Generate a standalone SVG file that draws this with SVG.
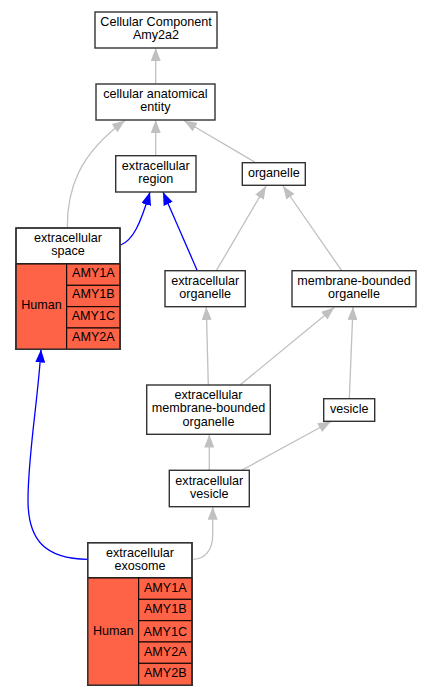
<svg xmlns="http://www.w3.org/2000/svg" width="431" height="696" viewBox="0 0 431 696">
<style>
text{font-family:"Liberation Sans",Arial,sans-serif;font-size:12.6px;fill:#000;text-anchor:middle}
.n{fill:#fff;stroke:#333;stroke-width:1.4}
.t{fill:#ff6347;stroke:#333;stroke-width:1.4}
.c{fill:#ff6347;stroke:#000;stroke-width:1}
.g{fill:none;stroke:#c0c0c0;stroke-width:1.3}
.b{fill:none;stroke:#0000ff;stroke-width:1.3}
</style>
<defs>
<marker id="ag" viewBox="0 0 13 10" refX="13" refY="5" markerWidth="13" markerHeight="10" markerUnits="userSpaceOnUse" orient="auto"><path d="M0,0L13,5L0,10z" fill="#c0c0c0"/></marker>
<marker id="ab" viewBox="0 0 13 10" refX="13" refY="5" markerWidth="13" markerHeight="10" markerUnits="userSpaceOnUse" orient="auto"><path d="M0,0L13,5L0,10z" fill="#0000ff"/></marker>
</defs>
<rect width="431" height="696" fill="#fff"/>
<g id="edges">
<path class="g" marker-end="url(#ag)" d="M155.7,84L155.7,48"/>
<path class="g" marker-end="url(#ag)" d="M155.7,155.7L155.7,120"/>
<path class="g" marker-end="url(#ag)" d="M255.7,162.7L184,120.5"/>
<path class="g" marker-end="url(#ag)" d="M67.3,228C67,190 78,155 125,120.5"/>
<path class="b" marker-end="url(#ab)" d="M120.7,245C133,240 140,225 150,192"/>
<path class="b" marker-end="url(#ab)" d="M197.3,270.7L163,192"/>
<path class="g" marker-end="url(#ag)" d="M216.3,270.7L266,186"/>
<path class="g" marker-end="url(#ag)" d="M341.7,270.7L283,186"/>
<path class="g" marker-end="url(#ag)" d="M208.3,385L206.3,307"/>
<path class="g" marker-end="url(#ag)" d="M240,385L334.3,307.5"/>
<path class="g" marker-end="url(#ag)" d="M349.3,398.7L353,307"/>
<path class="g" marker-end="url(#ag)" d="M209.3,470.3L209.3,434.5"/>
<path class="g" marker-end="url(#ag)" d="M241.7,470.3L331,421.5"/>
<path class="g" marker-end="url(#ag)" d="M193.3,559.3C205,559 212.7,550 212.7,535L212.7,506.7"/>
<path class="b" marker-end="url(#ab)" d="M87.7,559.3C45,559 28,540 28,500C28,455 38,400 41,349.5"/>
</g>
<g id="n1"><rect class="n" x="95" y="12" width="122" height="36"/><text x="156" y="26">Cellular Component</text><text x="156" y="38.7">Amy2a2</text></g>
<g id="n2"><rect class="n" x="96" y="84" width="119" height="36"/><text x="155.4" y="98">cellular anatomical</text><text x="155.4" y="111">entity</text></g>
<g id="n3"><rect class="n" x="115.7" y="155.7" width="80.3" height="36.3"/><text x="155.8" y="170">extracellular</text><text x="155.8" y="183">region</text></g>
<g id="n4"><rect class="n" x="242.3" y="162.7" width="63" height="22.6"/><text x="273.8" y="177">organelle</text></g>
<g id="n5">
<rect class="n" x="16" y="228" width="104" height="36"/>
<text x="68" y="242">extracellular</text><text x="68" y="255.3">space</text>
<rect class="t" x="16" y="264" width="104" height="85.3"/>
<rect class="c" x="16" y="264" width="50.7" height="85.3"/>
<rect class="c" x="66.7" y="264" width="53.3" height="21.3"/>
<rect class="c" x="66.7" y="285.3" width="53.3" height="21.4"/>
<rect class="c" x="66.7" y="306.7" width="53.3" height="21.3"/>
<rect class="c" x="66.7" y="328" width="53.3" height="21.3"/>
<rect x="16" y="228" width="104" height="121.3" fill="none" stroke="#333" stroke-width="1.4"/>
<text x="41.5" y="309.4">Human</text>
<text x="93.4" y="277">AMY1A</text><text x="93.4" y="298.4">AMY1B</text><text x="93.4" y="320">AMY1C</text><text x="93.4" y="341">AMY2A</text>
</g>
<g id="n6"><rect class="n" x="165" y="270.7" width="80.3" height="36"/><text x="205.2" y="285">extracellular</text><text x="205.2" y="297.7">organelle</text></g>
<g id="n7"><rect class="n" x="292" y="270.7" width="124" height="36"/><text x="354" y="285">membrane-bounded</text><text x="354" y="297.7">organelle</text></g>
<g id="n8"><rect class="n" x="146.7" y="385" width="123.6" height="49.3"/><text x="208.5" y="398.6">extracellular</text><text x="208.5" y="412">membrane-bounded</text><text x="208.5" y="425.6">organelle</text></g>
<g id="n9"><rect class="n" x="323.7" y="398.7" width="51" height="22.6"/><text x="349.2" y="413">vesicle</text></g>
<g id="n10"><rect class="n" x="169.3" y="470.3" width="80" height="36.4"/><text x="209.3" y="485">extracellular</text><text x="209.3" y="497.7">vesicle</text></g>
<g id="n11">
<rect class="n" x="87.7" y="542.7" width="104.3" height="35.3"/>
<text x="140" y="557">extracellular</text><text x="140" y="570">exosome</text>
<rect class="t" x="87.7" y="578" width="104.3" height="107.3"/>
<rect class="c" x="87.7" y="578" width="51" height="107.3"/>
<rect class="c" x="138.7" y="578" width="53.3" height="21.3"/>
<rect class="c" x="138.7" y="599.3" width="53.3" height="21.4"/>
<rect class="c" x="138.7" y="620.7" width="53.3" height="21.3"/>
<rect class="c" x="138.7" y="642" width="53.3" height="21.3"/>
<rect class="c" x="138.7" y="663.3" width="53.3" height="22"/>
<rect x="87.7" y="542.7" width="104.3" height="142.6" fill="none" stroke="#333" stroke-width="1.4"/>
<text x="113.2" y="635">Human</text>
<text x="165.3" y="592">AMY1A</text><text x="165.3" y="613.4">AMY1B</text><text x="165.3" y="635.7">AMY1C</text><text x="165.3" y="656">AMY2A</text><text x="165.3" y="677">AMY2B</text>
</g>
</svg>
